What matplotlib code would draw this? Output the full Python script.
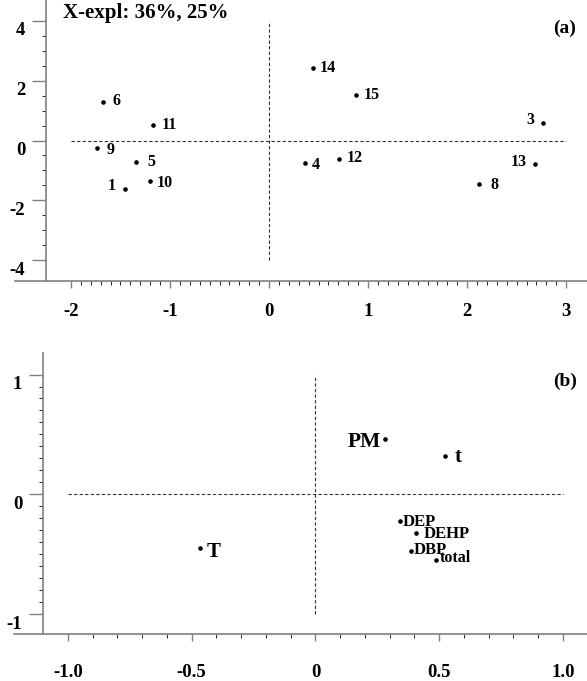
import numpy as np
import matplotlib
matplotlib.use('Agg')
import matplotlib.pyplot as plt
from matplotlib.transforms import ScaledTranslation

plt.rcParams['font.family'] = ['Liberation Serif', 'DejaVu Serif']
plt.rcParams['font.weight'] = 'bold'
plt.rcParams['axes.unicode_minus'] = False

# (a) sample scores
a_names = ['1', '3', '4', '5', '6', '8', '9', '10', '11', '12', '13', '14', '15']
a_x = [-1.45, 2.77, 0.36, -1.34, -1.68, 2.12, -1.74, -1.20, -1.17, 0.71, 2.68, 0.44, 0.88]
a_y = [-1.63, 0.60, -0.74, -0.73, 1.28, -1.46, -0.24, -1.36, 0.51, -0.62, -0.77, 2.44, 1.53]
a_xticks = [-2, -1, 0, 1, 2, 3]
a_yticks = [4, 2, 0, -2, -4]
a_title = 'X-expl: 36%, 25%'

# (b) variable loadings
b_names = ['T', 'PM', 't', 'DEP', 'DEHP', 'DBP', 'total']
b_x = [-0.467, 0.28, 0.524, 0.34, 0.408, 0.384, 0.488]
b_y = [-0.446, 0.46, 0.32, -0.223, -0.326, -0.47, -0.55]
b_xticks = [-1.0, -0.5, 0, 0.5, 1.0]
b_xlabels = ['-1.0', '-0.5', '0', '0.5', '1.0']
b_yticks = [1, 0, -1]

# label placement (pixel offsets, alignment, size)
a_lab = {'1': (-10, 3, 'right'), '3': (-9, 3, 'right'), '13': (-8, 2, 'right'),
         '4': (7, -2, 'left'), '9': (10, -2, 'left'), '10': (6, -2, 'left'),
         '8': (11, -1, 'left'), '6': (10, 1, 'left'), '11': (9, 0, 'left'),
         '5': (11, 0, 'left'), '14': (7, 0, 'left'), '15': (7, 0, 'left'),
         '12': (7, 1, 'left')}
b_lab = {'T': (7, -4, 'left', 15), 'PM': (-4, -3, 'right', 15.5), 't': (9, -1, 'left', 15),
         'DEP': (3, -1, 'left', 12), 'DEHP': (7, -1, 'left', 12),
         'DBP': (3, 1, 'left', 12), 'total': (3, 2, 'left', 11.5)}

W, H = 587, 681
fig = plt.figure(figsize=(W / 100, H / 100), dpi=100)


def px_axes(l, t, r, b):
    return fig.add_axes([l / W, 1 - b / H, (r - l) / W, (b - t) / H])


def style(ax, spine_x):
    for s in ['top', 'right']:
        ax.spines[s].set_visible(False)
    for s in ['left', 'bottom']:
        ax.spines[s].set_color('#808080')
        ax.spines[s].set_linewidth(1.2)
    ax.spines['left'].set_position(('data', spine_x))
    ax.tick_params(colors='#808080', labelcolor='black', labelsize=13.5, width=1.0)
    ax.tick_params(axis='x', which='major', length=5)
    ax.tick_params(axis='x', which='minor', length=3)
    ax.tick_params(axis='y', which='major', length=10)
    ax.tick_params(axis='y', which='minor', length=3)


dash = dict(color='#333333', lw=0.8, ls=(0, (3, 2)))

# ---- panel (a)
ax1 = px_axes(15, 0, 587, 281)
ax1.set_xlim(-2.565, 3.21)
ax1.set_ylim(-4.7, 4.7)
style(ax1, -2.25)
ax1.plot([-2, 3], [0, 0], **dash)
ax1.plot([0, 0], [-4, 4], **dash)
ax1.plot(a_x, a_y, 'o', ms=2.3, color='black')
for n, x, y in zip(a_names, a_x, a_y):
    dx, dy, ha = a_lab[n]
    ax1.annotate(n, (x, y), xytext=(dx, dy), textcoords='offset pixels',
                 ha=ha, va='center', fontsize=11.5)
ax1.set_xticks(a_xticks)
ax1.set_xticks(np.arange(-2, 3.01, 0.1), minor=True)
ax1.set_yticks(a_yticks)
ax1.set_yticks(np.arange(-4, 4.01, 0.5), minor=True)
ax1.tick_params(axis='x', pad=10.5)
ax1.tick_params(axis='y', pad=5)
ax1.text((63 - 15) / 572, 1 - 13 / 281, a_title, transform=ax1.transAxes,
         ha='left', va='center', fontsize=15)
ax1.text((576 - 15) / 572, 1 - 28 / 281, '(a)', transform=ax1.transAxes,
         ha='right', va='center', fontsize=14)

# ---- panel (b)
ax2 = px_axes(14, 353, 587, 634)
ax2.set_xlim(-1.218, 1.097)
ax2.set_ylim(-1.167, 1.18)
style(ax2, -1.10)
ax2.plot([-1, 1], [0, 0], **dash)
ax2.plot([0, 0], [-1, 1], **dash)
ax2.plot(b_x, b_y, 'o', ms=2.3, color='black')
for n, x, y in zip(b_names, b_x, b_y):
    dx, dy, ha, fs = b_lab[n]
    ax2.annotate(n, (x, y), xytext=(dx, dy), textcoords='offset pixels',
                 ha=ha, va='center', fontsize=fs)
ax2.set_xticks(b_xticks)
ax2.set_xticklabels(b_xlabels)
ax2.set_xticks(np.arange(-1, 1.001, 0.1), minor=True)
ax2.set_yticks(b_yticks)
ax2.set_yticks(np.arange(-1, 1.001, 0.1), minor=True)
ax2.tick_params(axis='x', pad=16.5)
ax2.tick_params(axis='y', pad=5)
ax2.text((577 - 14) / 573, 1 - 28 / 281, '(b)', transform=ax2.transAxes,
         ha='right', va='center', fontsize=14)

# y tick labels sit a little below their ticks
shift = ScaledTranslation(0, -8 / 100, fig.dpi_scale_trans)
for ax in (ax1, ax2):
    for lbl in ax.get_yticklabels():
        lbl.set_transform(lbl.get_transform() + shift)

fig.savefig('out.png', dpi=100)
